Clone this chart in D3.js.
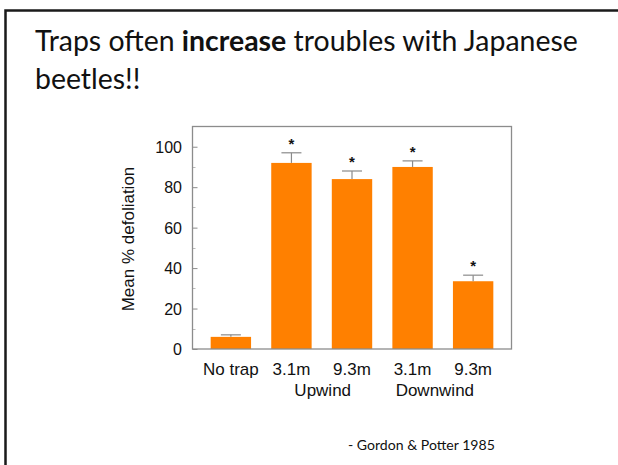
<!DOCTYPE html>
<html>
<head>
<meta charset="utf-8">
<script src="https://cdn.jsdelivr.net/npm/d3@7"></script>
<style>
  body { margin: 0; background: #fff; }
  svg { display: block; }
</style>
</head>
<body>
<script>
// Chart data
var categories = ["No trap", "3.1m up", "9.3m up", "3.1m down", "9.3m down"],
    tickNames = ["No trap", "3.1m", "9.3m", "3.1m", "9.3m"],
    meanDefol = [6, 92, 84, 90, 33.5],
    stdErr = [1, 5, 4, 3, 3],
    signif = [false, true, true, true, true],
    groups = [{name: "Upwind", cats: ["3.1m up", "9.3m up"]},
              {name: "Downwind", cats: ["3.1m down", "9.3m down"]}],
    yTicks = [0, 20, 40, 60, 80, 100],
    yMinor = [10, 30, 50, 70, 90];

var rows = categories.map(function(c, i) {
  return {cat: c, name: tickNames[i], mean: meanDefol[i], se: stdErr[i], sig: signif[i]};
});

var W = 618, H = 465;

var svg = d3.select("body")
            .append("svg")
            .attr("width", W)
            .attr("height", H);

// slide frame
svg.append("rect")
   .attr("x", 5.5).attr("y", 10.5)
   .attr("width", 700).attr("height", 600)
   .attr("fill", "none")
   .attr("stroke", "#1a1a1a")
   .attr("stroke-width", 2.5);

// title, sized so the first line spans like the original
var titleFont = "Lato, 'Open Sans', sans-serif";
var t1 = svg.append("text")
            .attr("x", 35).attr("y", 51)
            .style("font-family", titleFont)
            .style("font-size", "28px")
            .attr("fill", "#111");
t1.append("tspan").text("Traps often ");
t1.append("tspan").style("font-weight", "bold").text("increase");
t1.append("tspan").text(" troubles with Japanese");
var t2 = svg.append("text")
            .attr("x", 35).attr("y", 89)
            .style("font-family", titleFont)
            .style("font-size", "28px")
            .attr("fill", "#111")
            .text("beetles!!");
var fs = 28 * 543 / t1.node().getComputedTextLength();
t1.style("font-size", fs + "px");
t2.style("font-size", fs + "px");

// plot area
var plotL = 192.5, plotR = 511.5, plotT = 126.5, plotB = 349;

var x = d3.scaleBand()
          .domain(categories)
          .range([plotL, plotR])
          .paddingInner(0.333)
          .paddingOuter(0.3);

var y = d3.scaleLinear()
          .domain([0, 110])
          .range([plotB, plotT]);

var axisColor = "#8c8c8c";

// minor ticks (inside)
svg.append("g")
   .selectAll("line")
   .data(yMinor)
   .join("line")
   .attr("x1", plotL).attr("x2", plotL + 3)
   .attr("y1", function(d) { return Math.round(y(d)) + 0.5; })
   .attr("y2", function(d) { return Math.round(y(d)) + 0.5; })
   .attr("stroke", "#bbb");

var yAxis = svg.append("g")
               .attr("transform", "translate(" + plotL + ",0)")
               .call(d3.axisRight(y).tickValues(yTicks).tickSize(5).tickFormat(""));
yAxis.select(".domain").remove();
yAxis.selectAll("line").attr("stroke", axisColor);

svg.append("g")
   .selectAll("text")
   .data(yTicks)
   .join("text")
   .attr("x", 182)
   .attr("y", function(d) { return y(d) + 6; })
   .attr("text-anchor", "end")
   .style("font-family", "'Liberation Sans', Arial, sans-serif")
   .style("font-size", "16px")
   .attr("fill", "#111")
   .text(function(d) { return d; });

// bars
svg.append("g")
   .selectAll("rect")
   .data(rows)
   .join("rect")
   .attr("x", function(d) { return x(d.cat); })
   .attr("width", x.bandwidth())
   .attr("y", function(d) { return y(d.mean); })
   .attr("height", function(d) { return plotB - y(d.mean); })
   .attr("fill", "#ff8000");

// error bars
var err = svg.append("g").attr("stroke", "#8a8a8a").attr("stroke-width", 1.2);
rows.forEach(function(d) {
  var cx = x(d.cat) + x.bandwidth() / 2;
  err.append("line")
     .attr("x1", cx).attr("x2", cx)
     .attr("y1", y(d.mean)).attr("y2", y(d.mean + d.se));
  err.append("line")
     .attr("x1", cx - 10).attr("x2", cx + 10)
     .attr("y1", y(d.mean + d.se)).attr("y2", y(d.mean + d.se));
});

// significance stars
svg.append("g")
   .selectAll("text")
   .data(rows.filter(function(d) { return d.sig; }))
   .join("text")
   .attr("x", function(d) { return x(d.cat) + x.bandwidth() / 2; })
   .attr("y", function(d) { return y(d.mean + d.se) - 4; })
   .attr("text-anchor", "middle")
   .style("font-family", "'Liberation Sans', Arial, sans-serif")
   .style("font-size", "15px")
   .style("font-weight", "bold")
   .attr("fill", "#111")
   .text("*");

// plot frame
svg.append("rect")
   .attr("x", plotL).attr("y", plotT)
   .attr("width", plotR - plotL).attr("height", plotB - plotT)
   .attr("fill", "none")
   .attr("stroke", axisColor)
   .attr("stroke-width", 1.3);

// category labels
svg.append("g")
   .selectAll("text")
   .data(rows)
   .join("text")
   .attr("x", function(d) { return x(d.cat) + x.bandwidth() / 2; })
   .attr("y", 375)
   .attr("text-anchor", "middle")
   .style("font-family", "'Liberation Sans', Arial, sans-serif")
   .style("font-size", "17px")
   .attr("fill", "#111")
   .text(function(d) { return d.name; });

svg.append("g")
   .selectAll("text")
   .data(groups)
   .join("text")
   .attr("x", function(g, i) {
     var a = x(g.cats[0]), b = x(g.cats[1]);
     // the original sets "Downwind" a little left of the pair's centre
     return (a + b) / 2 + x.bandwidth() / 2 + (i === 1 ? -8 : 1);
   })
   .attr("y", 396)
   .attr("text-anchor", "middle")
   .style("font-family", "'Liberation Sans', Arial, sans-serif")
   .style("font-size", "17px")
   .attr("fill", "#111")
   .text(function(g) { return g.name; });

// y axis title
svg.append("text")
   .attr("transform", "translate(134,239) rotate(-90)")
   .attr("text-anchor", "middle")
   .style("font-family", "'Liberation Sans', Arial, sans-serif")
   .style("font-size", "17px")
   .attr("fill", "#111")
   .text("Mean % defoliation");

// citation
var cite = svg.append("text")
              .attr("x", 348).attr("y", 450)
              .style("font-family", titleFont)
              .style("font-size", "15px")
              .attr("fill", "#111")
              .text("- Gordon & Potter 1985");
var cs = 15 * 147 / cite.node().getComputedTextLength();
cite.style("font-size", cs + "px");
</script>
</body>
</html>
